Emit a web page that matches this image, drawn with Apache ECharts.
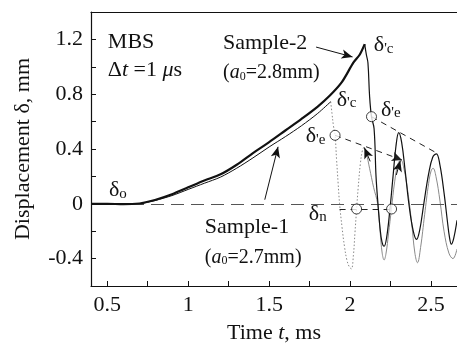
<!DOCTYPE html>
<html><head><meta charset="utf-8">
<script src="https://cdn.jsdelivr.net/npm/echarts@6/dist/echarts.min.js"></script>
<style>html,body{margin:0;padding:0;background:#fff}#c{width:457px;height:349px}</style>
</head><body><div id="c"></div>
<script>
// ---- axis ticks & labels ----
const xTickValues = [0.5, 0.75, 1, 1.25, 1.5, 1.75, 2, 2.25, 2.5];
const xLabelValues = [0.5, 1, 1.5, 2, 2.5];
const yTickValues = [-0.4, -0.2, 0, 0.2, 0.4, 0.6, 0.8, 1.0, 1.2];
const yLabelValues = [-0.4, 0, 0.4, 0.8, 1.2];

// ---- Sample-2 (a0 = 2.8 mm), before fracture ----
const sample2Pre = [[0.4,0],[0.5,0],[0.6,-0.003],[0.7,0.002],[0.75,0.015],[0.8,0.03],[0.9,0.07],[1.0,0.12],[1.1,0.17],[1.2,0.215],[1.3,0.285],[1.4,0.37],[1.5,0.45],[1.6,0.535],[1.7,0.62],[1.8,0.71],[1.875,0.79],[1.95,0.89],[2.02,1.03],[2.06,1.09],[2.09,1.165]];
// ---- Sample-2 after fracture (oscillation) ----
const sample2Post = [[2.09,1.165],[2.10,1.09],[2.11,1.03],[2.12,0.79],[2.132,0.636],[2.148,0.548],[2.16,0.2],[2.172,0.0],[2.185,-0.18],[2.197,-0.28],[2.21,-0.31],[2.225,-0.25],[2.245,-0.05],[2.265,0.2],[2.283,0.42],[2.30,0.52],[2.318,0.45],[2.34,0.24],[2.365,-0.02],[2.39,-0.2],[2.41,-0.26],[2.43,-0.19],[2.455,0.0],[2.485,0.22],[2.51,0.34],[2.533,0.365],[2.555,0.28],[2.58,0.08],[2.60,-0.12],[2.613,-0.24],[2.625,-0.295],[2.64,-0.25],[2.66,-0.12]];
// ---- Sample-1 (a0 = 2.7 mm), before fracture ----
const sample1Pre = [[0.4,0],[0.5,0],[0.6,-0.003],[0.7,0.0],[0.75,0.012],[0.8,0.025],[0.9,0.06],[1.0,0.105],[1.1,0.15],[1.2,0.195],[1.3,0.26],[1.4,0.335],[1.5,0.415],[1.6,0.49],[1.7,0.57],[1.8,0.66],[1.88,0.745]];
// ---- Sample-1 after fracture: dotted part, then thin grey part ----
const sample1PostDotted = [[1.88,0.745],[1.888,0.66],[1.897,0.57],[1.907,0.50],[1.916,0.33],[1.926,0.15],[1.935,0.0],[1.95,-0.17],[1.965,-0.31],[1.98,-0.41],[1.995,-0.46],[2.008,-0.475],[2.02,-0.38],[2.03,-0.21],[2.04,-0.04],[2.05,0.12],[2.063,0.29],[2.076,0.39],[2.086,0.413]];
const sample1PostSolid = [[2.086,0.413],[2.10,0.37],[2.12,0.26],[2.145,0.12],[2.17,0.0],[2.185,-0.2],[2.198,-0.36],[2.21,-0.41],[2.222,-0.36],[2.237,-0.22],[2.255,-0.04],[2.275,0.16],[2.295,0.29],[2.313,0.32],[2.33,0.27],[2.355,0.1],[2.38,-0.14],[2.40,-0.36],[2.416,-0.43],[2.435,-0.32],[2.46,-0.08],[2.485,0.15],[2.50,0.24],[2.512,0.26],[2.53,0.2],[2.555,0.02],[2.58,-0.2],[2.61,-0.36],[2.635,-0.40],[2.66,-0.33]];

// ---- marked points (open circles) ----
const circlePoints = [[1.907,0.50],[2.132,0.636],[2.04,-0.038],[2.256,-0.038]];
// ---- guide lines ----
const envelope1 = [[1.907,0.50],[2.32,0.32]];
const envelope2 = [[2.132,0.636],[2.543,0.365]];
const deltaNLine = [[1.935,-0.038],[2.27,-0.038]];
const arrowSample2 = [[1.79,1.144],[2.015,1.072]];
const arrowSample1 = [[1.473,0.03],[1.555,0.416]];
const arrowPeak1 = [[2.124,0.31],[2.088,0.41]];
const arrowPeak2 = [[2.285,0.21],[2.31,0.315]];

// ---- text annotations: [t, value, rich text] ----
const annotations = [
  [0.504, 1.19, '{n|MBS}'],
  [0.504, 0.98, '{n|Δ}{i|t}{n| =1 }{i|μ}{n|s}'],
  [1.215, 1.176, '{n|Sample-2}'],
  [1.215, 0.97, '{m|(}{mi|a}{sb|0}{m|=2.8mm)}'],
  [1.103, -0.167, '{n|Sample-1}'],
  [1.103, -0.376, '{m|(}{mi|a}{sb|0}{m|=2.7mm)}'],
  [2.146, 1.162, '{n|δ}{s|\'c}'],
  [1.917, 0.765, '{n|δ}{s|\'c}'],
  [2.19, 0.692, '{n|δ}{s|\'e}'],
  [1.726, 0.497, '{n|δ}{s|\'e}'],
  [1.745, -0.066, '{n|δ}{s|n}'],
  [0.511, 0.107, '{n|δ}{s|o}']
];

const FONT = 'Liberation Serif';
const INK = '#111';
const chart = echarts.init(document.getElementById('c'), null, {renderer:'canvas'});

function segLine(pts, style, startSym, endSym){
  return [{coord: pts[0], symbol: startSym || 'none'}, {coord: pts[1], symbol: endSym || 'none'}];
}

const option = {
  animation: false,
  backgroundColor: '#fff',
  grid: {left: 91, top: 12, right: 0, bottom: 60},
  xAxis: [{
    type: 'value', min: 0.4, max: 2.66,
    axisLine: {show: true, onZero: false, lineStyle: {color: INK, width: 1.2}},
    axisTick: {show: true, inside: true, length: 5, customValues: xTickValues, lineStyle: {color: INK}},
    axisLabel: {customValues: xLabelValues, color: INK, fontFamily: FONT, fontSize: 22, margin: 8,
      formatter: v => String(v)},
    splitLine: {show: false},
    name: '{n|Time }{i|t}{n|, ms}', nameLocation: 'middle', nameGap: 36,
    nameTextStyle: {rich: {n: {fontFamily: FONT, fontSize: 22, color: INK}, i: {fontFamily: FONT, fontSize: 22, fontStyle: 'italic', color: INK}}}
  }, {
    type: 'value', min: 0.4, max: 2.66, position: 'top',
    axisLine: {show: true, onZero: false, lineStyle: {color: INK, width: 1.2}},
    axisTick: {show: false}, axisLabel: {show: false}, splitLine: {show: false}
  }],
  yAxis: [{
    type: 'value', min: -0.6, max: 1.4,
    axisLine: {show: true, onZero: false, lineStyle: {color: INK, width: 1.2}},
    axisTick: {show: true, inside: true, length: 5, customValues: yTickValues, lineStyle: {color: INK}},
    axisLabel: {customValues: yLabelValues, color: INK, fontFamily: FONT, fontSize: 22, margin: 8,
      formatter: v => (Math.abs(v) < 1e-9 ? '0' : String(Math.round(v*10)/10))},
    splitLine: {show: false},
    name: 'Displacement δ, mm', nameLocation: 'middle', nameGap: 57, nameRotate: 90,
    nameTextStyle: {fontFamily: FONT, fontSize: 22, color: INK}
  }],
  series: [
    {type: 'line', data: [], markLine: {silent: true, symbol: 'none', label: {show: false},
      lineStyle: {color: '#555', width: 1, type: [13, 7]}, data: [{yAxis: 0}]}},
    {type: 'line', data: sample2Pre, showSymbol: false, smooth: 0.3, lineStyle: {color: INK, width: 2.2}, z: 5},
    {type: 'line', data: sample2Post, showSymbol: false, smooth: 0.4, lineStyle: {color: INK, width: 1.2}, z: 5},
    {type: 'line', data: sample1Pre, showSymbol: false, smooth: 0.3, lineStyle: {color: INK, width: 1}, z: 4},
    {type: 'line', data: sample1PostDotted, showSymbol: false, smooth: 0.4, lineStyle: {color: '#888', width: 1, type: [1.5, 2]}, z: 3},
    {type: 'line', data: sample1PostSolid, showSymbol: false, smooth: 0.4, lineStyle: {color: '#8a8a8a', width: 1}, z: 3},
    {type: 'line', data: [], markLine: {silent: true, label: {show: false}, symbolSize: [7, 10],
      lineStyle: {color: '#222', width: 1, type: [6, 5]},
      data: [segLine(envelope1, null, 'none', 'arrow'), segLine(envelope2), segLine(deltaNLine)]}},
    {type: 'line', data: [], markLine: {silent: true, label: {show: false}, symbolSize: [7, 11],
      lineStyle: {color: '#111', width: 1, type: 'solid'},
      data: [segLine(arrowSample2, null, 'none', 'arrow'), segLine(arrowSample1, null, 'none', 'arrow'),
             segLine(arrowPeak1, null, 'none', 'arrow'), segLine(arrowPeak2, null, 'none', 'arrow')]}},
    {type: 'scatter', data: circlePoints, symbol: 'circle', symbolSize: 10, z: 10,
      itemStyle: {color: '#fff', borderColor: '#111', borderWidth: 1}}
  ]
};
chart.setOption(option);

const richStyles = {
  n: {fontFamily: FONT, fontSize: 22, fill: INK, lineHeight: 24, verticalAlign: 'bottom'},
  i: {fontFamily: FONT, fontSize: 22, fontStyle: 'italic', fill: INK, lineHeight: 24, verticalAlign: 'bottom'},
  m: {fontFamily: FONT, fontSize: 20, fill: INK, lineHeight: 24, verticalAlign: 'bottom'},
  mi: {fontFamily: FONT, fontSize: 20, fontStyle: 'italic', fill: INK, lineHeight: 24, verticalAlign: 'bottom'},
  sb: {fontFamily: FONT, fontSize: 12, fill: INK, lineHeight: 20, verticalAlign: 'bottom'},
  s: {fontFamily: FONT, fontSize: 15, fill: INK, lineHeight: 20, verticalAlign: 'bottom'}
};
const graphics = annotations.map(a => {
  const p = chart.convertToPixel({gridIndex: 0}, [a[0], a[1]]);
  return {type: 'text', x: p[0], y: p[1], z: 20, silent: true,
    style: {text: a[2], rich: richStyles, align: 'left', verticalAlign: 'middle', fill: INK, fontFamily: FONT, fontSize: 22}};
});
chart.setOption({graphic: graphics});
</script></body></html>
